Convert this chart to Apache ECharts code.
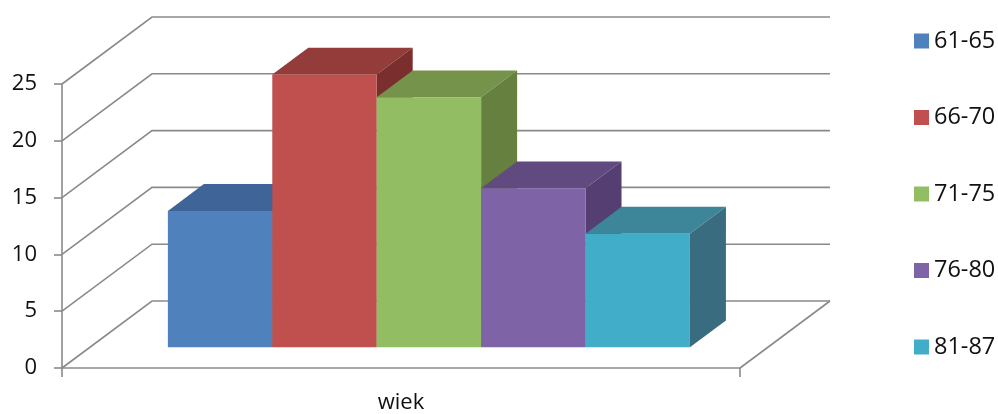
<!DOCTYPE html>
<html>
<head>
<meta charset="utf-8">
<script src="https://cdn.jsdelivr.net/npm/echarts@6/dist/echarts.min.js"></script>
<style>html,body{margin:0;padding:0;background:#fff}#c{width:998px;height:414px}</style>
</head>
<body>
<div id="c"></div>
<script>
// ---- data ----
const categories = ['wiek'];
const seriesNames = ['61-65', '66-70', '71-75', '76-80', '81-87'];
const seriesValues = [12, 24, 22, 14, 10];
const yTicks = [0, 5, 10, 15, 20, 25];

// ---- style ----
const FONT = 'Open Sans';
const frontColors = ['#4f81bd', '#c0504d', '#92bd62', '#7e64a6', '#42adc8'];
const topColors   = ['#3f6598', '#933c3a', '#76934b', '#604a80', '#3d8599'];
const sideColors  = ['#355683', '#7a2e2d', '#66813f', '#553f72', '#386c7e'];
const WALL_DX = 90, WALL_DY = 67;       // depth of the floor/side wall in px
const BAR_FRONT = 0.31, BAR_DEPTH = 0.40; // fractions of the depth
const BAR_GROUP = 0.77;                 // fraction of the band used by bars
const GRID_COLOR = '#8a8a8a';

const chart = echarts.init(document.getElementById('c'));

function wallItem(params, api) {
  const cs = params.coordSys;
  const v = api.value(0);
  const y = api.coord([0, v])[1];
  const x0 = cs.x, x1 = cs.x + cs.width;
  const children = [{
    type: 'polyline',
    shape: { points: [[x0, y], [x0 + WALL_DX, y - WALL_DY], [x1 + WALL_DX, y - WALL_DY]] },
    style: { stroke: GRID_COLOR, lineWidth: 1.6, fill: null }
  }];
  if (v === 0) {
    children.push({
      type: 'line',
      shape: { x1: x1, y1: y, x2: x1 + WALL_DX, y2: y - WALL_DY },
      style: { stroke: GRID_COLOR, lineWidth: 1.6 }
    });
  }
  return { type: 'group', children: children };
}

function barItemFactory(i) {
  return function (params, api) {
    const c = api.coord([api.value(0), 0]);
    const top = api.coord([api.value(0), api.value(1)]);
    const band = api.size([1, 0])[0];
    const bw = band * BAR_GROUP / seriesNames.length;
    const ox = WALL_DX * BAR_FRONT, oy = WALL_DY * BAR_FRONT;
    const dx = WALL_DX * BAR_DEPTH, dy = WALL_DY * BAR_DEPTH;
    const xa = c[0] - band * BAR_GROUP / 2 + i * bw + ox;
    const xb = xa + bw;
    const yb = c[1] - oy;
    const yt = top[1] - oy;
    return {
      type: 'group',
      children: [
        { type: 'polygon', shape: { points: [[xa, yt], [xa + dx, yt - dy], [xb + dx, yt - dy], [xb, yt]] },
          style: { fill: topColors[i] } },
        { type: 'polygon', shape: { points: [[xb, yt], [xb + dx, yt - dy], [xb + dx, yb - dy], [xb, yb]] },
          style: { fill: sideColors[i] } },
        { type: 'rect', shape: { x: xa, y: yt, width: bw, height: yb - yt },
          style: { fill: frontColors[i] } }
      ]
    };
  };
}

const series = [{
  name: 'wall',
  type: 'custom',
  z: 1,
  clip: false,
  silent: true,
  coordinateSystem: 'cartesian2d',
  encode: { y: 0 },
  data: yTicks.map(v => [v]),
  renderItem: wallItem
}];
seriesNames.forEach((n, i) => {
  series.push({
    name: n,
    type: 'custom',
    z: 2 + i,
    clip: false,
    coordinateSystem: 'cartesian2d',
    itemStyle: { color: frontColors[i] },
    encode: { x: 0, y: 1 },
    data: [[0, seriesValues[i]]],
    renderItem: barItemFactory(i)
  });
});

chart.setOption({
  animation: false,
  color: frontColors,
  grid: { left: 62, top: 84, width: 678, height: 288, containLabel: false },
  legend: {
    data: seriesNames,
    orient: 'vertical',
    left: 909,
    top: 24,
    itemWidth: 15,
    itemHeight: 15,
    itemGap: 52.5,
    icon: 'rect',
    textStyle: { fontFamily: FONT, fontSize: 23.5, color: '#111', lineHeight: 24 }
  },
  xAxis: {
    type: 'category',
    data: categories,
    boundaryGap: true,
    axisLine: { lineStyle: { color: GRID_COLOR, width: 1.6 } },
    axisTick: { show: true, length: 9, lineStyle: { color: GRID_COLOR, width: 1.6 } },
    axisLabel: { fontFamily: FONT, fontSize: 22, color: '#111', margin: 24 },
    splitLine: { show: false }
  },
  yAxis: {
    type: 'value',
    min: 0,
    max: 25,
    interval: 5,
    axisLine: { show: true, lineStyle: { color: GRID_COLOR, width: 1.6 } },
    axisTick: { show: true, length: 8, lineStyle: { color: GRID_COLOR, width: 1.6 } },
    axisLabel: { fontFamily: FONT, fontSize: 22, color: '#111', margin: 25 },
    splitLine: { show: false }
  },
  series: series
});
</script>
</body>
</html>
